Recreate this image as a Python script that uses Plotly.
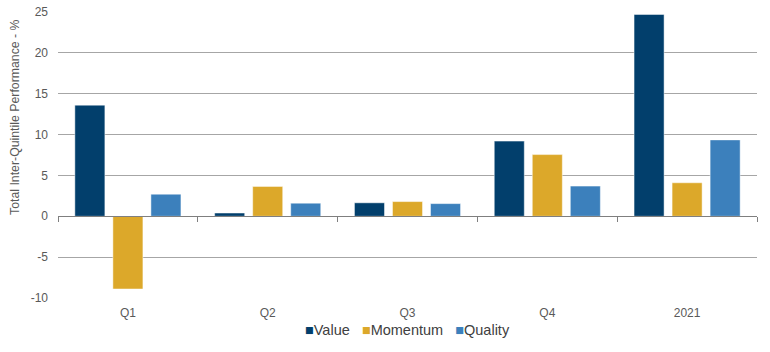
import plotly.graph_objects as go

categories = ["Q1", "Q2", "Q3", "Q4", "2021"]
value = [13.6, 0.4, 1.65, 9.2, 24.7]
momentum = [-8.9, 3.65, 1.8, 7.55, 4.1]
quality = [2.7, 1.6, 1.55, 3.7, 9.35]
series_names = ["Value", "Momentum", "Quality"]
series_colors = ["#023F6C", "#DCA82A", "#3C80BC"]

y_min, y_max, y_step = -10, 25, 5
y_ticks = list(range(y_min, y_max + 1, y_step))
font_family = "Liberation Sans, Arial, sans-serif"

fig = go.Figure()
for name, vals, color in zip(series_names, [value, momentum, quality], series_colors):
    fig.add_trace(go.Bar(x=categories, y=vals, name=name, showlegend=False,
                         marker=dict(color=color, line=dict(color="rgba(255,255,255,0.6)", width=0.8))))

# helper trace on overlay axis to draw the zero axis with boundary ticks
fig.add_trace(go.Scatter(x=categories, y=[0] * len(categories), xaxis="x2", mode="none",
                         showlegend=False, hoverinfo="skip"))

# compact legend as text
nb = "\u00a0"
legend_text = (nb * 3).join(
    f'<span style="color:{c}">■</span>{n}' for n, c in zip(series_names, series_colors))
fig.add_annotation(text=legend_text, xref="paper", yref="paper", x=0.5, y=-0.112,
                   xanchor="center", yanchor="middle", showarrow=False,
                   font=dict(size=14.5, color="#404040", family=font_family))

# y-axis title
fig.add_annotation(text="Total Inter-Quintile Performance - %", xref="paper", yref="paper",
                   x=0, xshift=-43, y=0.633, textangle=-90, xanchor="center", yanchor="middle",
                   showarrow=False, font=dict(size=12.3, color="#595959", family=font_family))

fig.update_layout(
    width=770, height=352,
    margin=dict(l=58, r=13, t=12, b=54, autoexpand=False),
    paper_bgcolor="white", plot_bgcolor="white",
    font=dict(family=font_family, color="#595959", size=12),
    barmode="group", bargap=0.184, bargroupgap=0.21,
    showlegend=False,
    xaxis=dict(type="category", categoryorder="array", categoryarray=categories,
               showline=False, showgrid=False, ticks="", zeroline=False, automargin=False,
               ticklabelstandoff=6,
               tickfont=dict(size=12, color="#595959"), range=[-0.5, len(categories) - 0.5]),
    xaxis2=dict(type="category", categoryorder="array", categoryarray=categories,
                overlaying="x", anchor="free", side="bottom", automargin=False,
                position=(0 - y_min) / (y_max - y_min),
                showline=True, linecolor="#7F7F7F", linewidth=1.2,
                ticks="outside", tickson="boundaries", ticklen=5, tickcolor="#7F7F7F",
                showticklabels=False, showgrid=False, range=[-0.5, len(categories) - 0.5]),
    yaxis=dict(range=[y_min, y_max], tickvals=y_ticks, ticktext=[str(v) for v in y_ticks],
               showgrid=True, gridcolor="#A6A6A6", gridwidth=1, automargin=False,
               zeroline=False, showline=False, ticks="", ticklabelstandoff=9,
               tickfont=dict(size=12, color="#595959")),
)

fig.write_html("out.html")
